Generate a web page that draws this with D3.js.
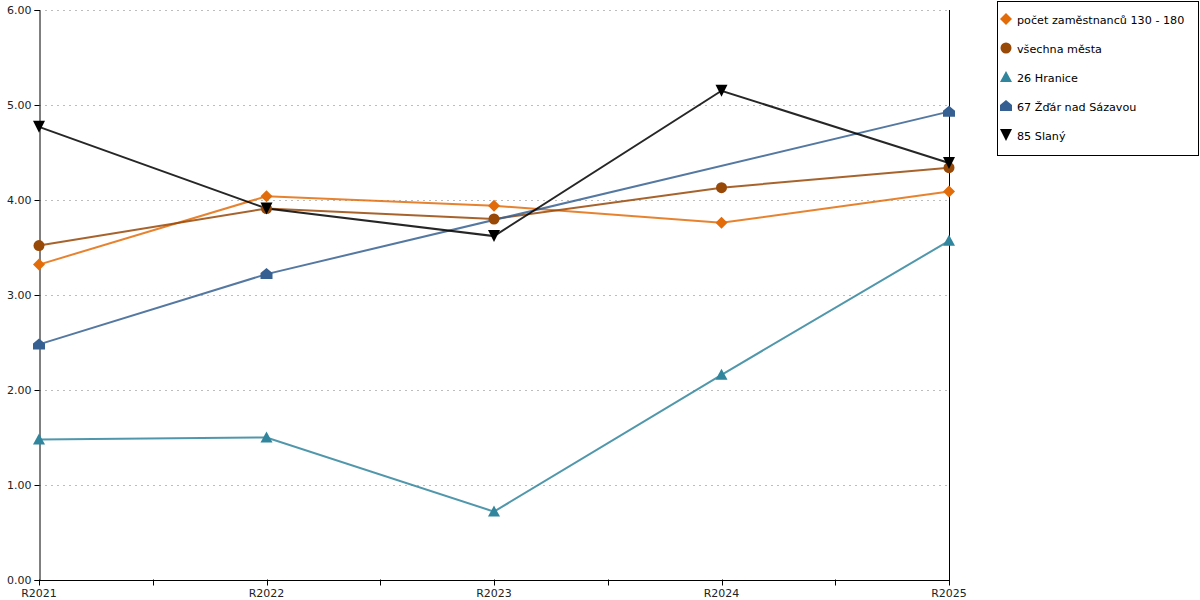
<!DOCTYPE html>
<html><head><meta charset="utf-8">
<script src="https://cdn.jsdelivr.net/npm/d3@7"></script>
<style>body{margin:0;background:#fff;} svg{display:block;font-family:"DejaVu Sans",Verdana,sans-serif;}</style>
</head><body>
<svg id="c" width="1200" height="600"></svg>
<script>
const categories = ["R2021","R2022","R2023","R2024","R2025"];
const yTicks = [0,1,2,3,4,5,6];
const seriesNames = ["počet zaměstnanců 130 - 180","všechna města","26 Hranice","67 Žďár nad Sázavou","85 Slaný"];
const pocetValues = [3.32,4.04,3.94,3.76,4.09];
const vsechnaValues = [3.52,3.91,3.80,4.13,4.34];
const hraniceValues = [1.48,1.50,0.72,2.16,3.57];
const zdarValues = [2.48,3.22,null,null,4.93];
const slanyValues = [4.77,3.91,3.62,5.15,4.39];
const seriesColors = ["#E36C0A","#984807","#31859C","#366092","#000000"];
const seriesShapes = ["diamond","circle","triangle","house","down"];
const allValues = [pocetValues,vsechnaValues,hraniceValues,zdarValues,slanyValues];

(function(){
const svg = d3.select("#c");
const mL = 39, mR = 949, mT = 10, mB = 580;
const x = d3.scalePoint().domain(categories).range([mL,mR]);
const y = d3.scaleLinear().domain([0,6]).range([mB,mT]);

// gridlines
svg.append("g").selectAll("line").data(yTicks.filter(d=>d>0)).join("line")
  .attr("x1",mL).attr("x2",mR).attr("y1",d=>y(d)+0.5).attr("y2",d=>y(d)+0.5)
  .attr("stroke","#bdbdbd").attr("stroke-dasharray","2,4").attr("stroke-width",1);

// y axis
const ya = svg.append("g").attr("transform",`translate(${mL+0.5},0)`)
  .call(d3.axisLeft(y).tickValues(yTicks).tickFormat(d3.format(".2f")).tickSizeOuter(0).tickSize(5).tickPadding(3));
ya.select(".domain").attr("stroke","#000");
ya.selectAll(".tick line").attr("stroke","#000");
ya.selectAll("text").attr("font-size",11).attr("fill","#222").attr("font-family","DejaVu Sans, sans-serif");

// right border line
svg.append("line").attr("x1",mR+0.5).attr("x2",mR+0.5).attr("y1",mT).attr("y2",mB).attr("stroke","#000");

// x axis
const xa = svg.append("g").attr("transform",`translate(0,${mB+0.5})`);
xa.append("line").attr("x1",mL).attr("x2",mR+1).attr("stroke","#000");
const step = x.step();
const minorTicks = [];
categories.forEach((c,i)=>{ minorTicks.push(x(c)); if(i<categories.length-1) minorTicks.push(x(c)+step/2); });
xa.selectAll("line.t").data(minorTicks).join("line").attr("class","t")
  .attr("x1",d=>Math.round(d)+0.5).attr("x2",d=>Math.round(d)+0.5).attr("y1",-1).attr("y2",5).attr("stroke","#000");
xa.selectAll("text").data(categories).join("text")
  .attr("x",d=>x(d)).attr("y",16).attr("text-anchor","middle").attr("font-size",11).attr("fill","#222").text(d=>d);

// lines
const line = d3.line().x(d=>x(d.c)).y(d=>y(d.v));
allValues.forEach((vals,i)=>{
  const pts = vals.map((v,j)=>({c:categories[j],v})).filter(d=>d.v!=null);
  svg.append("path").datum(pts).attr("d",line).attr("fill","none")
    .attr("stroke",seriesColors[i]).attr("stroke-width",2).attr("stroke-opacity",0.85);
});

function drawMarker(g,shape,cx,cy,color){
  let p;
  if(shape==="diamond") p=`M${cx},${cy-6}L${cx+6},${cy}L${cx},${cy+6}L${cx-6},${cy}Z`;
  else if(shape==="triangle") p=`M${cx},${cy-6}L${cx+6},${cy+5}L${cx-6},${cy+5}Z`;
  else if(shape==="down") p=`M${cx-6},${cy-6}L${cx+6},${cy-6}L${cx},${cy+6}Z`;
  else if(shape==="house") p=`M${cx},${cy-6}L${cx+6},${cy-1}L${cx+6},${cy+5}L${cx-6},${cy+5}L${cx-6},${cy-1}Z`;
  if(shape==="circle") g.append("circle").attr("cx",cx).attr("cy",cy).attr("r",5.5).attr("fill",color);
  else g.append("path").attr("d",p).attr("fill",color);
}
// markers
const mg = svg.append("g");
allValues.forEach((vals,i)=>{
  vals.forEach((v,j)=>{ if(v!=null) drawMarker(mg,seriesShapes[i],x(categories[j]),y(v),seriesColors[i]); });
});

// legend
const lg = svg.append("g");
lg.append("rect").attr("x",997.5).attr("y",1.5).attr("width",201).attr("height",154).attr("fill","#fff").attr("stroke","#000");
seriesNames.forEach((n,i)=>{
  const cy = 19 + i*29;
  drawMarker(lg,seriesShapes[i],1006,cy,seriesColors[i]);
  lg.append("text").attr("x",1017).attr("y",cy+4.5).attr("font-size",11.2).attr("fill","#000").text(n);
});
})();
</script>
</body></html>
